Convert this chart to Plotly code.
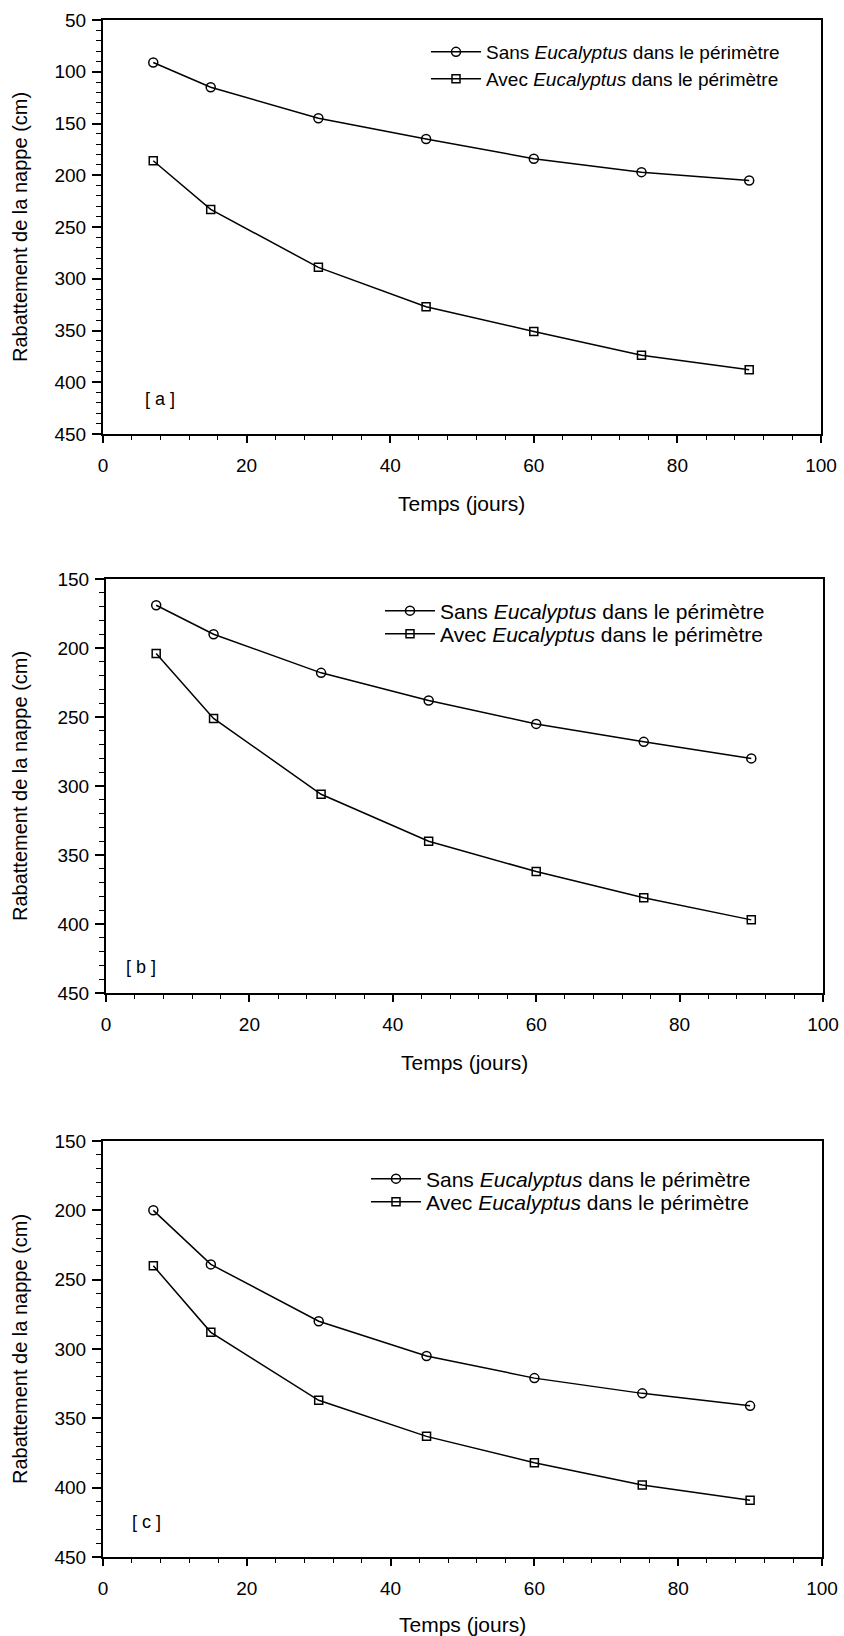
import plotly.graph_objects as go

# ---- data ----
temps = [7, 15, 30, 45, 60, 75, 90]

sans_a = [91, 115, 145, 165, 184, 197, 205]
avec_a = [186, 233, 289, 327, 351, 374, 388]

sans_b = [169, 190, 218, 238, 255, 268, 280]
avec_b = [204, 251, 306, 340, 362, 381, 397]

sans_c = [200, 239, 280, 305, 321, 332, 341]
avec_c = [240, 288, 337, 363, 382, 398, 409]

name_sans = "Sans <i>Eucalyptus</i> dans le périmètre"
name_avec = "Avec <i>Eucalyptus</i> dans le périmètre"
panel_tags = ["[ a ]", "[ b ]", "[ c ]"]
y_ranges = [(450, 50), (450, 150), (450, 150)]
x_title = "Temps (jours)"
y_title = "Rabattement de la nappe (cm)"

W, H = 844, 1636
FONT = "Liberation Sans, Arial, sans-serif"

def py(p):
    return 1 - p / H

def px(p):
    return p / W

# pixel geometry of each panel: (left, right, top, bottom)
panels = [(103, 821, 20, 434), (106, 823, 579, 993), (103, 822, 1141, 1557)]
# legend: left x, row-1 y, row-2 y, font size
legend_geo = [(426, 52, 79, 19), (380, 611, 634, 21), (366, 1179, 1202, 21)]
tag_pos = [(7.9, 416), (4.9, 431), (6.1, 425)]
xtitle_y = [503, 1062, 1624]
ytitle_x = 20

series = [(sans_a, avec_a), (sans_b, avec_b), (sans_c, avec_c)]

fig = go.Figure()
layout = dict(
    width=W, height=H, margin=dict(l=0, r=0, t=0, b=0, pad=0, autoexpand=False),
    paper_bgcolor="white", plot_bgcolor="white",
    font=dict(family=FONT, color="black", size=19),
    annotations=[],
)

for i, (s, a) in enumerate(series):
    k = "" if i == 0 else str(i + 1)
    leg1 = f"legend{2 * i + 2}"
    leg2 = f"legend{2 * i + 3}"
    lx, ly1, ly2, lfs = legend_geo[i]
    for vals, name, sym, msize, leg, ly in (
        (s, name_sans, "circle-open", 9, leg1, ly1),
        (a, name_avec, "square-open", 8, leg2, ly2),
    ):
        fig.add_trace(go.Scatter(
            x=temps, y=vals, name=name, mode="lines+markers",
            xaxis="x" + k, yaxis="y" + k, legend=leg, showlegend=True,
            line=dict(color="black", width=1.5),
            marker=dict(symbol=sym, size=msize, color="black", line=dict(width=1.5)),
        ))
        layout[leg] = dict(
            x=px(lx), y=py(ly), xanchor="left", yanchor="middle",
            bgcolor="rgba(0,0,0,0)", borderwidth=0,
            font=dict(size=lfs, family=FONT),
            itemwidth=50, visible=True,
        )
    l, r, t, b = panels[i]
    layout["xaxis" + k] = dict(
        domain=[px(l), px(r)], anchor="y" + k, range=[0, 100], automargin=False,
        tickmode="linear", tick0=0, dtick=20, ticks="outside", ticklen=7,
        tickwidth=1.5, tickcolor="black",
        minor=dict(dtick=4, ticks="outside", ticklen=4, tickwidth=1, tickcolor="black"),
        showline=True, linecolor="black", linewidth=2, mirror=True,
        showgrid=False, zeroline=False, ticklabelstandoff=6,
        tickfont=dict(size=19),
    )
    layout["yaxis" + k] = dict(
        domain=[py(b), py(t)], anchor="x" + k, range=list(y_ranges[i]), automargin=False,
        tickmode="linear", tick0=0, dtick=50, ticks="outside", ticklen=9,
        tickwidth=1.5, tickcolor="black",
        minor=dict(dtick=10, ticks="outside", ticklen=5, tickwidth=1, tickcolor="black"),
        showline=True, linecolor="black", linewidth=2, mirror=True,
        showgrid=False, zeroline=False, ticklabelstandoff=2,
        tickfont=dict(size=19),
    )
    tx, ty = tag_pos[i]
    layout["annotations"].append(dict(
        x=tx, y=ty, xref="x" + k, yref="y" + k, text=panel_tags[i],
        showarrow=False, font=dict(size=18), xanchor="center", yanchor="middle",
    ))
    layout["annotations"].append(dict(
        x=(px(l) + px(r)) / 2, y=py(xtitle_y[i]), xref="paper", yref="paper",
        text=x_title, showarrow=False, font=dict(size=21),
        xanchor="center", yanchor="middle",
    ))
    layout["annotations"].append(dict(
        x=px(ytitle_x), y=(py(t) + py(b)) / 2, xref="paper", yref="paper",
        text=y_title, showarrow=False, font=dict(size=20), textangle=-90,
        xanchor="center", yanchor="middle",
    ))

fig.update_layout(**layout)
fig.write_html(
    "out.html",
    config={"displayModeBar": False},
    post_script="document.body.style.margin='0px';",
)
